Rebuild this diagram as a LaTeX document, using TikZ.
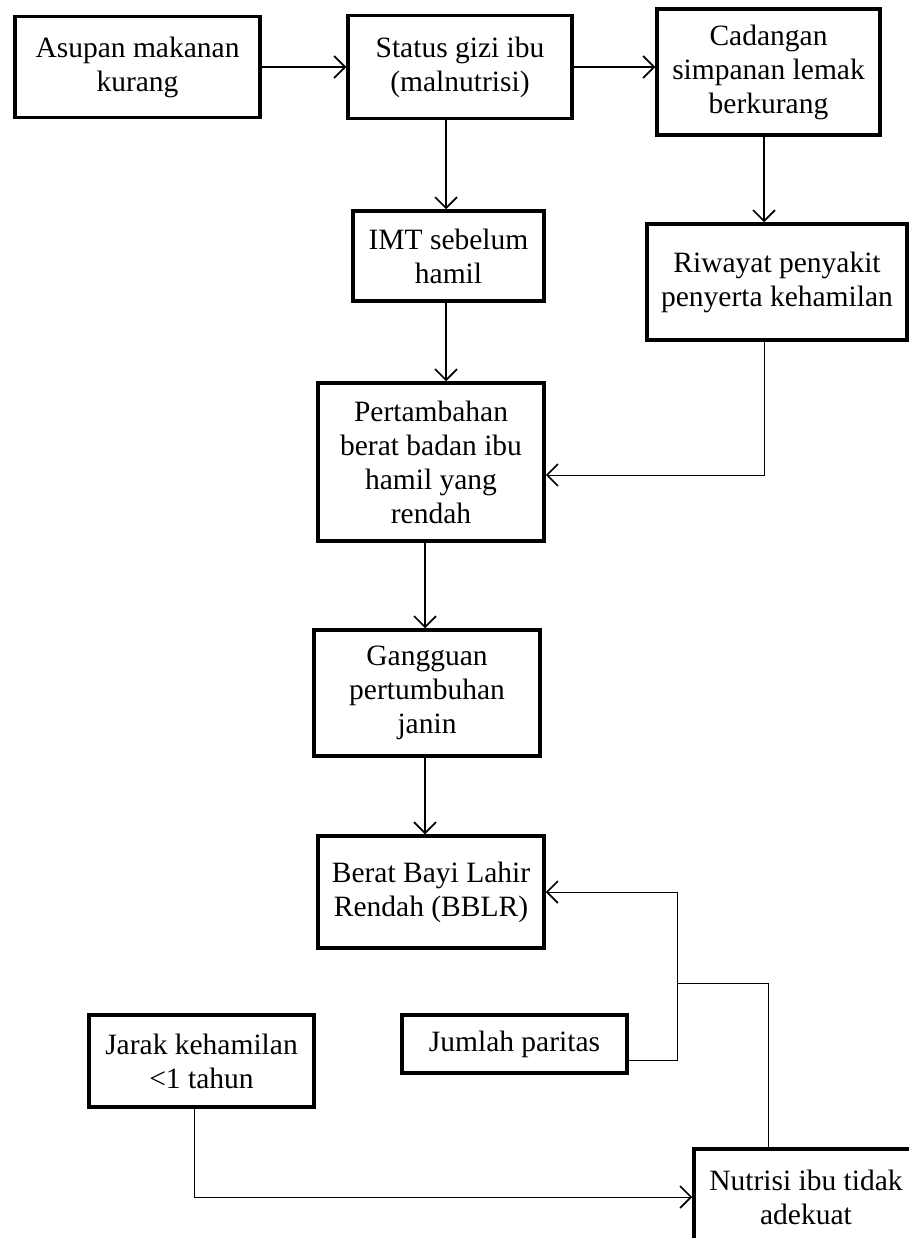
\documentclass[tikz,border=0pt]{standalone}
\usepackage{fontspec}
\setmainfont{Liberation Serif}
\usetikzlibrary{positioning, calc, arrows.meta}

\begin{document}
\begin{tikzpicture}[x=1pt,y=-1pt]
\tikzset{
    mybox/.style={
        draw=black,
        line width=3.5pt,
        align=center,
        inner sep=2pt,
        font=\fontsize{29.5}{34}\selectfont,
    },
    thinline/.style={
        draw=black,
        line width=0.9pt,
    },
    thickline/.style={
        draw=black,
        line width=1.6pt,
    },
    >={Straight Barb[length=11pt,width=22pt,line width=1.7pt]},
}
    \useasboundingbox (0,0) rectangle (909,1238);

    \node[mybox, minimum width=245, minimum height=101] (asupan) at (137.5,67) {Asupan makanan\\kurang};
    \node[mybox, minimum width=224, minimum height=103] (status) at (460,67) {Status gizi ibu\\(malnutrisi)};
    \node[mybox, minimum width=223, minimum height=126] (cadangan) at (768.5,72) {Cadangan\\simpanan lemak\\berkurang};
    \node[mybox, minimum width=191, minimum height=90] (imt) at (448.5,256) {IMT sebelum\\hamil};
    \node[mybox, minimum width=260, minimum height=116] (riwayat) at (777,282) {Riwayat penyakit\\penyerta kehamilan};
    \node[mybox, minimum width=226, minimum height=158] (pert) at (431,462) {Pertambahan\\berat badan ibu\\hamil yang\\rendah};
    \node[mybox, minimum width=226, minimum height=126] (gangguan) at (427,693) {Gangguan\\pertumbuhan\\janin};
    \node[mybox, minimum width=226, minimum height=112] (bblr) at (431,892) {Berat Bayi Lahir\\Rendah (BBLR)};
    \node[mybox, minimum width=225, minimum height=92] (jarak) at (201.5,1061) {Jarak kehamilan\\<1 tahun};
    \node[mybox, minimum width=225, minimum height=58] (jumlah) at (514.5,1044) {Jumlah paritas};
    \node[mybox, minimum width=224, minimum height=96] (nutrisi) at (806,1197) {Nutrisi ibu tidak\\adekuat};

    % straight arrows
    \draw[thickline, ->] (asupan.east) -- (asupan.east -| status.west);
    \draw[thickline, ->] (status.east) -- (status.east -| cadangan.west);
    \draw[thickline, ->] ($(status.south)+(-14,0)$) -- ($(imt.north)+(-2.5,0)$);
    \draw[thickline, ->] ($(cadangan.south)+(-4.5,0)$) -- ($(cadangan.south |- riwayat.north)+(-4.5,0)$);
    \draw[thickline, ->] ($(imt.south)+(-2.5,0)$) -- ($(imt.south |- pert.north)+(-2.5,0)$);
    \draw[thickline, ->] ($(gangguan.north |- pert.south)+(-2,0)$) -- ($(gangguan.north)+(-2,0)$);
    \draw[thickline, ->] ($(gangguan.south)+(-2,0)$) -- ($(gangguan.south |- bblr.north)+(-2,0)$);

    % elbow connectors
    \coordinate (knee) at (677,983);
    \draw[thinline, ->] ($(cadangan.south |- riwayat.south)+(-4.5,0)$) |- ($(pert.east)+(0,13)$);
    \draw[thinline, ->] ($(jumlah.east)+(0,16)$) -| (knee) |- (bblr.east);
    \draw[thinline] ($(nutrisi.north)+(-38,0)$) |- (knee);
    \draw[thinline, ->] ($(jarak.south)+(-7,0)$) |- (nutrisi.west);

\end{tikzpicture}
\end{document}
